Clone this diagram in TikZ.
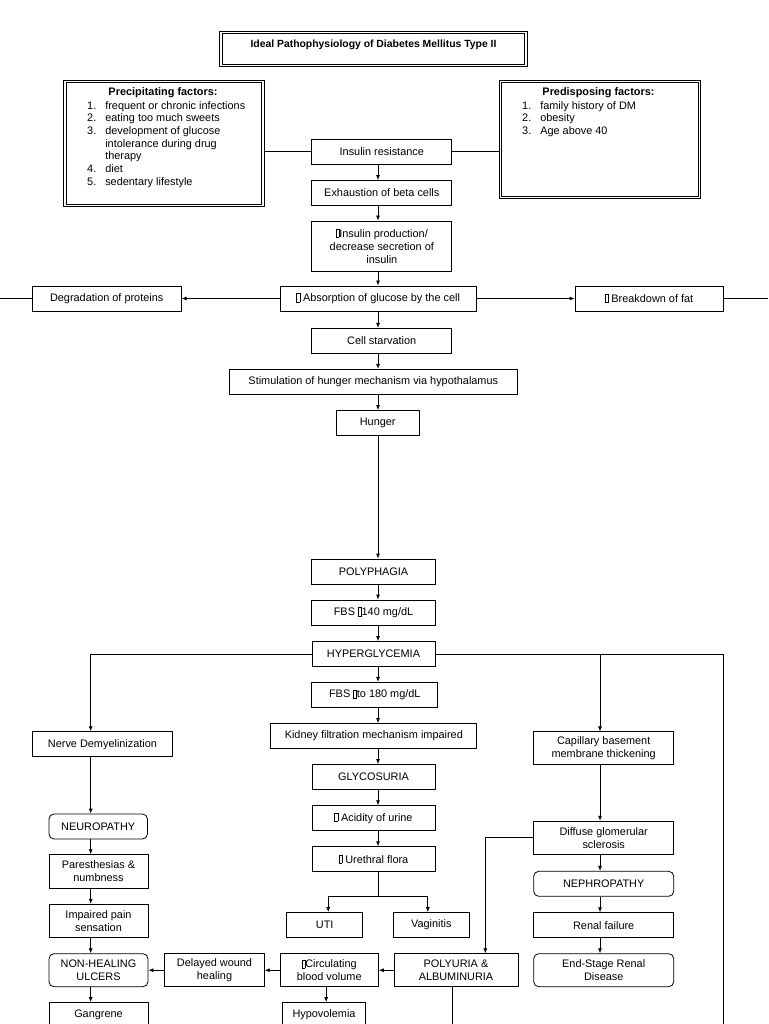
\documentclass[tikz,border=0pt]{standalone}
\usepackage{fontspec}
\setmainfont{Liberation Sans}
\usetikzlibrary{arrows.meta}

\newcommand{\tofu}{{\setlength{\fboxsep}{0pt}\setlength{\fboxrule}{0.5pt}\fbox{\rule{0pt}{7.8pt}\hspace{2.6pt}}}}

\tikzset{
  flow/.style={draw, line width=0.8pt, align=center, inner sep=1pt, minimum height=25, font=\fontsize{10.9}{13}\selectfont},
  stage/.style={flow, rounded corners=5pt},
  frame/.style={draw, double, double distance=1.1pt, line width=1pt},
  arr/.style={-{Latex[length=5pt,width=4pt]}, line width=0.8pt},
  link/.style={line width=0.8pt},
}

\begin{document}
\begin{tikzpicture}[x=1pt, y=-1pt]
 	\clip (0,0) rectangle (768,1024);
 	\coordinate (spine) at (378,0);
 	\coordinate (lspine) at (90.7,0);
 	\coordinate (rspine) at (600,0);
 	\coordinate (edgeL) at (0,0);
 	\coordinate (edgeR) at (768,0);
 	\coordinate (rrail) at (723.5,1024);
 	\coordinate (edgeB) at (0,1024);

 	\node[frame, minimum width=305, inner ysep=0, text height=15, text depth=18, font=\bfseries\fontsize{10.4}{12}\selectfont] (title) at (373.5,49.2) {Ideal Pathophysiology of Diabetes Mellitus Type II};

 	\node[frame, minimum width=198, minimum height=124] (precip) at (164,143.7) {};
 	\node[font=\bfseries\fontsize{10.9}{13}\selectfont] (preciphead) at (163,92.7) {Precipitating factors:};
 	\node[anchor=north west, inner sep=0, align=left, font=\fontsize{10.9}{12.7}\selectfont] (preciplist) at (87,100) {%
 		\begin{tabular}{@{}r@{\hspace{9pt}}l@{}}
 		1. & frequent or chronic infections\\
 		2. & eating too much sweets\\
 		3. & development of glucose\\
 		   & intolerance during drug\\
 		   & therapy\\
 		4. & diet\\
 		5. & sedentary lifestyle
 		\end{tabular}};

 	\node[frame, minimum width=198.5, minimum height=115.6] (predisp) at (599.8,139.5) {};
 	\node[font=\bfseries\fontsize{10.9}{13}\selectfont] (predisphead) at (598.5,92.7) {Predisposing factors:};
 	\node[anchor=north west, inner sep=0, align=left, font=\fontsize{10.9}{12.7}\selectfont] (predisplist) at (522,100) {%
 		\begin{tabular}{@{}r@{\hspace{9pt}}l@{}}
 		1. & family history of DM\\
 		2. & obesity\\
 		3. & Age above 40
 		\end{tabular}};

 	\node[flow, minimum width=140] (ir) at (381.8,151.6) {Insulin resistance};
 	\node[flow, minimum width=140] (exh) at (381.8,193) {Exhaustion of beta cells};
 	\node[flow, minimum width=140, minimum height=50] (prod) at (381.8,246) {\tofu Insulin production/\\decrease secretion of\\insulin};
 	\node[flow, minimum width=196] (abs) at (378.2,298.5) {\tofu{} Absorption of glucose by the cell};
 	\node[flow, minimum width=149] (deg) at (106.7,298.5) {Degradation of proteins};
 	\node[flow, minimum width=148] (fat) at (649,298.5) {\tofu{} Breakdown of fat};
 	\node[flow, minimum width=140] (starv) at (381.7,340.8) {Cell starvation};
 	\node[flow, minimum width=288] (stim) at (373.3,381.8) {Stimulation of hunger mechanism via hypothalamus};
 	\node[flow, minimum width=83] (hunger) at (377.7,423) {Hunger};
 	\node[flow, minimum width=124] (polyph) at (373.5,571.5) {POLYPHAGIA};
 	\node[flow, minimum width=124] (fbsone) at (373.5,612.5) {FBS \tofu 140 mg/dL};
 	\node[flow, minimum width=123] (hyper) at (373.5,654) {HYPERGLYCEMIA};
 	\node[flow, minimum width=126] (fbstwo) at (374.8,694.8) {FBS \tofu to 180 mg/dL};
 	\node[flow, minimum width=206] (kidney) at (373.8,736) {Kidney filtration mechanism impaired};
 	\node[flow, minimum width=123] (glyco) at (373.5,777) {GLYCOSURIA};
 	\node[flow, minimum width=123] (acid) at (373.5,818.2) {\tofu{} Acidity of urine};
 	\node[flow, minimum width=123] (ureth) at (373.5,859.2) {\tofu{} Urethral flora};
 	\node[flow, minimum width=76] (uti) at (324.7,925) {UTI};
 	\node[flow, minimum width=75.4] (vag) at (431.3,925) {Vaginitis};

 	\node[flow, minimum width=140] (nerve) at (102.5,744.2) {Nerve Demyelinization};
 	\node[stage, minimum width=98.5] (neuro) at (98.2,826.5) {NEUROPATHY};
 	\node[flow, minimum width=99, minimum height=33.6] (pares) at (98.5,871.5) {Paresthesias \&\\numbness};
 	\node[flow, minimum width=99, minimum height=33.4] (impaired) at (98.5,921) {Impaired pain\\sensation};
 	\node[stage, minimum width=99, minimum height=33] (nonheal) at (98.5,970.2) {NON-HEALING\\ULCERS};
 	\node[flow, minimum width=99] (gangrene) at (98.5,1015) {Gangrene};

 	\node[flow, minimum width=99.5, minimum height=33] (delayed) at (214.5,970.2) {Delayed wound\\healing};
 	\node[flow, minimum width=98.4, minimum height=33] (circ) at (329.2,970.2) {\tofu Circulating\\blood volume};
 	\node[flow, minimum width=82.4] (hypovol) at (324,1015) {Hypovolemia};
 	\node[flow, minimum width=124, minimum height=33] (polyur) at (456,970.2) {POLYURIA \&\\ALBUMINURIA};

 	\node[flow, minimum width=140, minimum height=33] (capil) at (603.7,748.3) {Capillary basement\\membrane thickening};
 	\node[flow, minimum width=140, minimum height=33] (diffuse) at (603.7,837.7) {Diffuse glomerular\\sclerosis};
 	\node[stage, minimum width=140] (nephro) at (603.7,883.8) {NEPHROPATHY};
 	\node[flow, minimum width=140] (renal) at (603.7,925.2) {Renal failure};
 	\node[stage, minimum width=140, minimum height=33] (esrd) at (603.7,970.2) {End-Stage Renal\\Disease};

 	\draw[link] (ir.west) -- (ir.west -| precip.east);
 	\draw[link] (ir.east) -- (ir.east -| predisp.west);
 	\draw[arr] (ir.south -| spine) -- (exh.north -| spine);
 	\draw[arr] (exh.south -| spine) -- (prod.north -| spine);
 	\draw[arr] (prod.south -| spine) -- (abs.north -| spine);
 	\draw[arr] (abs.west) -- (deg.east);
 	\draw[arr] (abs.east) -- (fat.west);
 	\draw[link] (deg.west) -- (deg.west -| edgeL);
 	\draw[link] (fat.east) -- (fat.east -| edgeR);
 	\draw[arr] (abs.south -| spine) -- (starv.north -| spine);
 	\draw[arr] (starv.south -| spine) -- (stim.north -| spine);
 	\draw[arr] (stim.south -| spine) -- (hunger.north -| spine);
 	\draw[arr] (hunger.south -| spine) -- (polyph.north -| spine);
 	\draw[arr] (polyph.south -| spine) -- (fbsone.north -| spine);
 	\draw[arr] (fbsone.south -| spine) -- (hyper.north -| spine);
 	\draw[arr] (hyper.south -| spine) -- (fbstwo.north -| spine);
 	\draw[arr] (fbstwo.south -| spine) -- (kidney.north -| spine);
 	\draw[arr] (kidney.south -| spine) -- (glyco.north -| spine);
 	\draw[arr] (glyco.south -| spine) -- (acid.north -| spine);
 	\draw[arr] (acid.south -| spine) -- (ureth.north -| spine);
 	\coordinate (fork) at (378,896.7);
 	\draw[link] (ureth.south -| spine) -- (fork);
 	\draw[arr] (fork) -| ([xshift=3.5]uti.north);
 	\draw[arr] (fork) -| ([xshift=-3.5]vag.north);

 	\draw[arr] (hyper.west) -| (nerve.north -| lspine);
 	\draw[link] (hyper.east) -| (rrail);
 	\draw[arr] (hyper.east -| rspine) -- (capil.north -| rspine);

 	\draw[arr] (nerve.south -| lspine) -- (neuro.north -| lspine);
 	\draw[arr] (neuro.south -| lspine) -- (pares.north -| lspine);
 	\draw[arr] (pares.south -| lspine) -- (impaired.north -| lspine);
 	\draw[arr] (impaired.south -| lspine) -- (nonheal.north -| lspine);
 	\draw[arr] (nonheal.south -| lspine) -- (gangrene.north -| lspine);

 	\draw[arr] (capil.south -| rspine) -- (diffuse.north -| rspine);
 	\draw[arr] (diffuse.south -| rspine) -- (nephro.north -| rspine);
 	\draw[arr] (nephro.south -| rspine) -- (renal.north -| rspine);
 	\draw[arr] (renal.south -| rspine) -- (esrd.north -| rspine);
 	\draw[arr] (diffuse.west) -| ([xshift=29.3]polyur.north);

 	\draw[arr] (polyur.west) -- (circ.east);
 	\draw[arr] (circ.west) -- (delayed.east);
 	\draw[arr] (delayed.west) -- (nonheal.east);
 	\draw[arr] ([xshift=-3]circ.south) -- ([xshift=-3]circ.south |- hypovol.north);
 	\draw[link] ([xshift=-3.5]polyur.south) -- ([xshift=-3.5]polyur.south |- edgeB);
\end{tikzpicture}
\end{document}
